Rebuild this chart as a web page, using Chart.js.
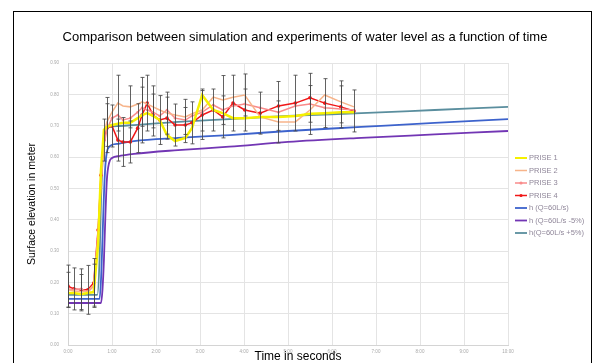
<!DOCTYPE html>
<html>
<head>
<meta charset="utf-8">
<script src="https://cdn.jsdelivr.net/npm/chart.js@4"></script>
<style>
  html, body { margin: 0; padding: 0; background: #fff; }
  #wrap { position: relative; width: 593px; height: 363px; }
  #frame { position: absolute; left: 13px; top: 11px; width: 577px; height: 400px;
           border: 1px solid #000; pointer-events: none; }
</style>
</head>
<body>
<div id="wrap">
  <canvas id="chart" width="593" height="363"></canvas>
  <div id="frame"></div>
</div>
<script>
// ── data ──────────────────────────────────
var title = 'Comparison between simulation and experiments of water level as a function of time';
var yTitle = 'Surface elevation in meter';
var xTitle = 'Time in seconds';

// measured points (time in s, level in m)
var expTime = [0, 8, 18, 27, 35, 41, 45, 49, 53, 60, 68, 75, 85, 95, 101, 108, 116, 125, 135, 146,
               160, 169, 183, 198, 211, 225, 241, 262, 287, 310, 330, 350, 372, 390];
var prise1 = [0.166, 0.166, 0.162, 0.166, 0.169, 0.319, 0.559, 0.687, 0.696, 0.702, 0.706, 0.709, 0.709, 0.724, 0.734, 0.740, 0.731, 0.718, 0.670, 0.651,
              0.661, 0.692, 0.798, 0.750, 0.740, 0.724, 0.724, 0.728, 0.728, 0.731, 0.738, 0.740, 0.743, 0.743];
var prise2 = [0.176, 0.172, 0.169, 0.172, 0.191, 0.351, 0.527, 0.670, 0.712, 0.743, 0.772, 0.763, 0.760, 0.769, 0.776, 0.769, 0.760, 0.750, 0.740, 0.734,
              0.728, 0.738, 0.750, 0.791, 0.782, 0.791, 0.798, 0.728, 0.712, 0.712, 0.750, 0.798, 0.776, 0.760];
var prise3 = [0.179, 0.176, 0.179, 0.169, 0.188, 0.341, 0.511, 0.639, 0.687, 0.724, 0.734, 0.718, 0.724, 0.743, 0.757, 0.750, 0.743, 0.731, 0.750, 0.724,
              0.718, 0.731, 0.743, 0.766, 0.750, 0.763, 0.769, 0.757, 0.743, 0.763, 0.769, 0.757, 0.753, 0.750];
var prise4 = [0.188, 0.179, 0.176, 0.176, 0.198, 0.367, 0.542, 0.654, 0.692, 0.699, 0.654, 0.648, 0.648, 0.692, 0.734, 0.772, 0.734, 0.718, 0.724, 0.702,
              0.702, 0.709, 0.734, 0.750, 0.728, 0.772, 0.750, 0.740, 0.763, 0.772, 0.789, 0.772, 0.760, 0.747];
// error bar half-heights (m), 0 = no bar
var err2 = [0.056, 0, 0.056, 0, 0.067, 0, 0, 0, 0.078, 0, 0.089, 0, 0.067, 0, 0.078, 0, 0.067, 0, 0.067, 0,
            0.056, 0, 0.067, 0, 0.078, 0, 0.067, 0, 0.067, 0, 0.078, 0, 0.067, 0];
var err4 = [0.067, 0.067, 0.067, 0.078, 0.078, 0, 0, 0.067, 0.078, 0.067, 0.067, 0.078, 0.067, 0.078, 0.089, 0.089, 0.067, 0.078, 0.067, 0.067,
            0.056, 0.067, 0.078, 0.067, 0.067, 0.089, 0.067, 0.067, 0.078, 0.089, 0.078, 0.078, 0.067, 0.067];

// simulation curves
var simTime  = [0, 40, 43, 45, 47, 49, 51, 53, 56, 60, 70, 90, 150, 220, 300, 400, 500, 600];
var simQ60   = [0.147, 0.147, 0.147, 0.208, 0.336, 0.479, 0.574, 0.616, 0.632, 0.639, 0.643, 0.651, 0.661, 0.670, 0.683, 0.696, 0.709, 0.721];
var simMinus = [0.134, 0.134, 0.134, 0.134, 0.176, 0.271, 0.414, 0.527, 0.581, 0.597, 0.603, 0.610, 0.622, 0.633, 0.648, 0.661, 0.672, 0.683];
var simPlus  = [0.160, 0.160, 0.271, 0.463, 0.590, 0.661, 0.683, 0.692, 0.696, 0.698, 0.699, 0.702, 0.712, 0.721, 0.731, 0.740, 0.750, 0.760];

var yTicks = [0, 0.1, 0.2, 0.3, 0.4, 0.5, 0.6, 0.7, 0.8, 0.9];
var xTicks = [0, 60, 120, 180, 240, 300, 360, 420, 480, 540, 600];

function pts(xs, ys) {
  return xs.map(function (x, i) { return { x: x, y: ys[i] }; });
}
function fmtTime(s) {
  var m = Math.floor(s / 60), r = s % 60;
  return m + ':' + (r < 10 ? '0' : '') + r;
}

var FONT = '"Liberation Sans", Arial, sans-serif';

// ── error bars ──────────────────────────────────
var errorBars = {
  id: 'errorBars',
  afterDatasetsDraw: function (chart) {
    var ctx = chart.ctx, xs = chart.scales.x, ys = chart.scales.y;
    ctx.save();
    ctx.strokeStyle = 'rgba(70,70,70,0.85)';
    ctx.lineWidth = 1;
    chart.data.datasets.forEach(function (ds) {
      if (!ds.errors) return;
      ds.data.forEach(function (p, i) {
        var e = ds.errors[i];
        if (!e) return;
        var x = Math.round(xs.getPixelForValue(p.x)) + 0.5;
        var t = ys.getPixelForValue(p.y + e), b = ys.getPixelForValue(p.y - e);
        ctx.beginPath();
        ctx.moveTo(x, t); ctx.lineTo(x, b);
        ctx.moveTo(x - 2, t); ctx.lineTo(x + 2, t);
        ctx.moveTo(x - 2, b); ctx.lineTo(x + 2, b);
        ctx.stroke();
      });
    });
    ctx.restore();
  }
};

// ── legend, chart title, x title ──────────────────────────────────
var sideText = {
  id: 'sideText',
  afterDraw: function (chart) {
    var ctx = chart.ctx;
    ctx.save();
    ctx.font = '7.5px ' + FONT;
    ctx.textBaseline = 'middle';
    chart.data.datasets.forEach(function (ds, i) {
      var y = 158 + i * 12.5;
      ctx.strokeStyle = ds.borderColor;
      ctx.lineWidth = Math.min(ds.borderWidth, 2);
      ctx.beginPath(); ctx.moveTo(515, y); ctx.lineTo(527, y); ctx.stroke();
      if (ds.pointRadius > 0) {
        ctx.fillStyle = ds.borderColor;
        ctx.beginPath(); ctx.arc(521, y, 1.6, 0, Math.PI * 2); ctx.fill();
      }
      ctx.fillStyle = '#8f8699';
      ctx.fillText(ds.label, 529, y);
    });
    ctx.fillStyle = '#000';
    ctx.textAlign = 'center';
    ctx.font = '13px ' + FONT;
    ctx.fillText(title, 305, 37);
    ctx.font = '12px ' + FONT;
    ctx.fillText(xTitle, 298, 357);
    ctx.restore();
  }
};

new Chart(document.getElementById('chart'), {
  type: 'line',
  data: {
    datasets: [
      { label: 'PRISE 1', data: pts(expTime, prise1), borderColor: '#f5f000', borderWidth: 2.5, pointRadius: 0 },
      { label: 'PRISE 2', data: pts(expTime, prise2), borderColor: '#f7b48a', borderWidth: 1.5, pointRadius: 0, errors: err2 },
      { label: 'PRISE 3', data: pts(expTime, prise3), borderColor: '#f98b8b', borderWidth: 1.5, pointRadius: 1.3,
        pointBackgroundColor: '#f98b8b', pointBorderWidth: 0 },
      { label: 'PRISE 4', data: pts(expTime, prise4), borderColor: '#f01818', borderWidth: 1.5, pointRadius: 1.8,
        pointBackgroundColor: '#f01818', pointBorderWidth: 0, errors: err4 },
      { label: 'h (Q=60L/s)', data: pts(simTime, simQ60), borderColor: '#3d63cc', borderWidth: 1.8, pointRadius: 0,
        cubicInterpolationMode: 'monotone' },
      { label: 'h (Q=60L/s -5%)', data: pts(simTime, simMinus), borderColor: '#7236b4', borderWidth: 1.8, pointRadius: 0,
        cubicInterpolationMode: 'monotone' },
      { label: 'h(Q=60L/s +5%)', data: pts(simTime, simPlus), borderColor: '#5a8e9e', borderWidth: 1.8, pointRadius: 0,
        cubicInterpolationMode: 'monotone' }
    ]
  },
  options: {
    responsive: false,
    animation: false,
    layout: { padding: { left: 17, right: 85, top: 63, bottom: 0 } },
    plugins: {
      legend: { display: false },
      tooltip: { enabled: false },
      title: { display: false }
    },
    scales: {
      x: {
        type: 'linear', min: 0, max: 600,
        afterFit: function (s) { s.height = 18; },
        afterBuildTicks: function (s) { s.ticks = xTicks.map(function (v) { return { value: v }; }); },
        grid: { color: '#e4e4e4', drawTicks: false },
        border: { color: '#d4d4d4' },
        ticks: { color: '#a8a8a8', font: { family: FONT, size: 4.5 }, padding: 4, maxRotation: 0,
                 callback: function (v) { return fmtTime(v); } }
      },
      y: {
        type: 'linear', min: 0, max: 0.9,
        afterFit: function (s) { s.width = 51; },
        afterBuildTicks: function (s) { s.ticks = yTicks.map(function (v) { return { value: v }; }); },
        grid: { color: '#e4e4e4', drawTicks: false },
        border: { color: '#d4d4d4' },
        ticks: { color: '#a8a8a8', font: { family: FONT, size: 4.5 }, padding: 9,
                 callback: function (v) { return v.toFixed(2); } },
        title: { display: true, text: yTitle, color: '#000',
                 font: { family: FONT, size: 10.5 }, padding: { top: 9, bottom: 0 } }
      }
    }
  },
  plugins: [errorBars, sideText]
});
</script>
</body>
</html>
